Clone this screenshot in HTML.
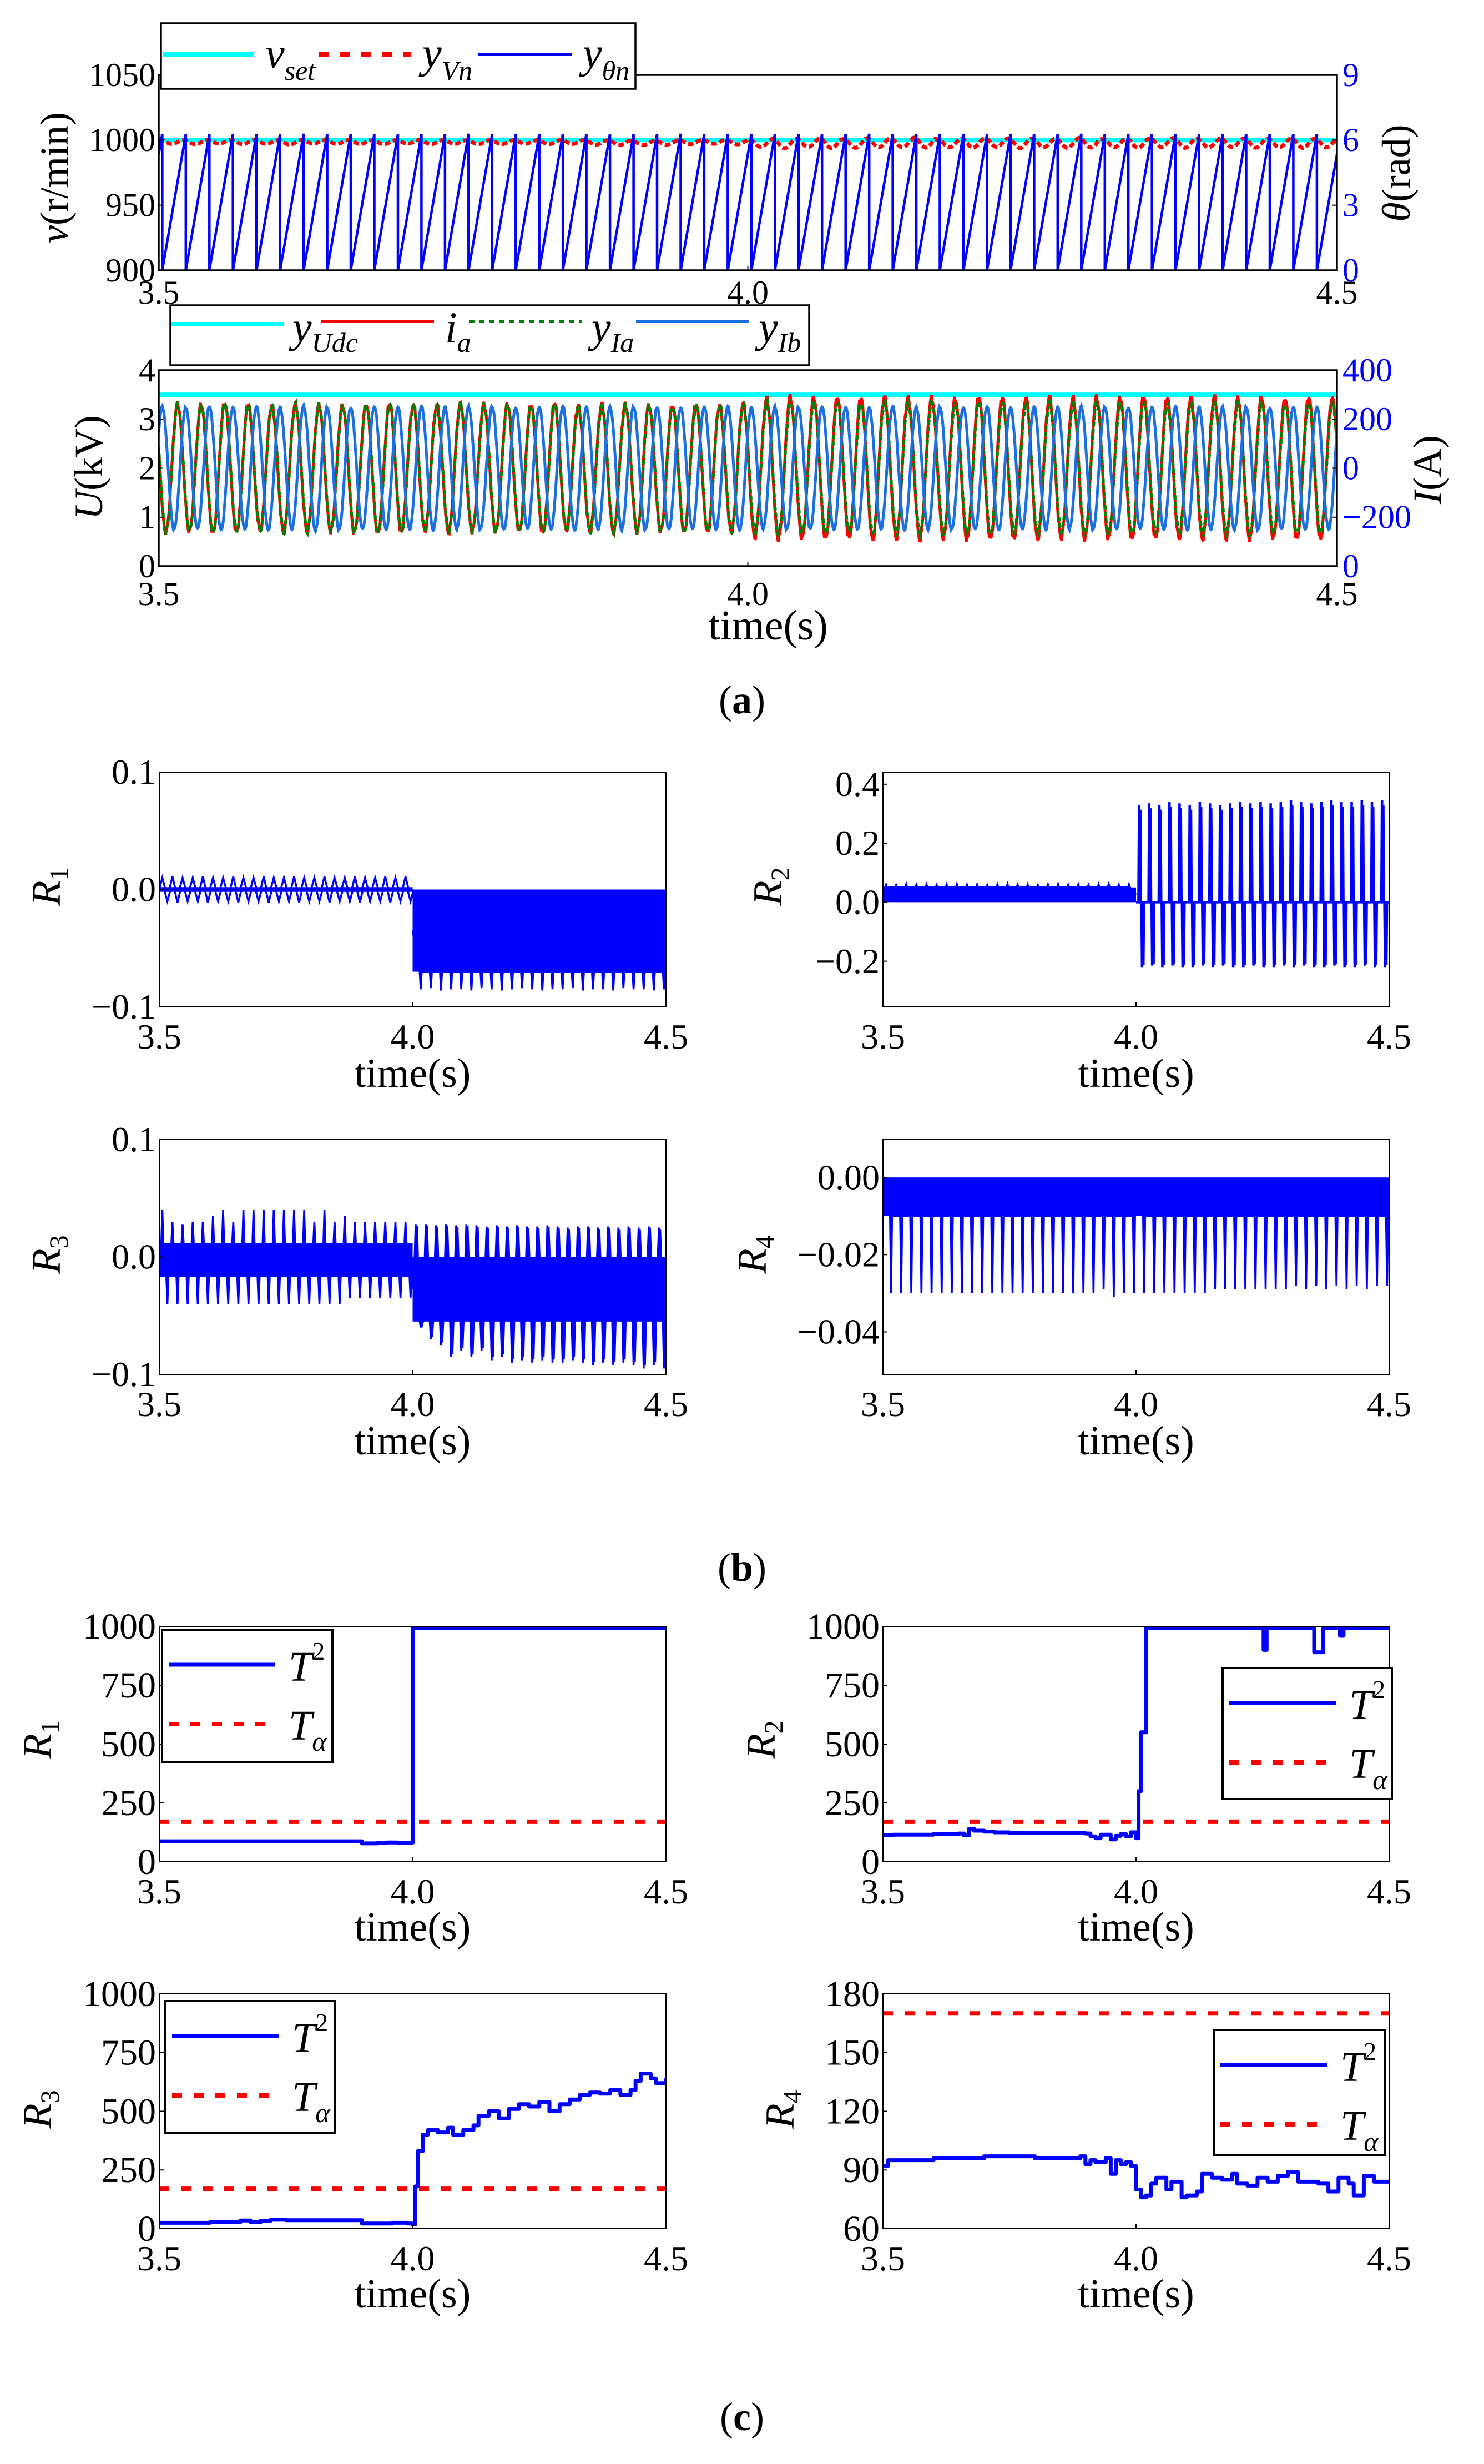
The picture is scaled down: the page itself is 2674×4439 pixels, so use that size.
<!DOCTYPE html>
<html><head><meta charset="utf-8"><title>Fault detection figure</title>
<style>
html,body{margin:0;padding:0;background:#fff;}
svg{display:block;font-family:"Liberation Serif",serif;}
</style></head>
<body>
<svg id="fig" xmlns="http://www.w3.org/2000/svg" width="2674" height="4439" viewBox="0 0 2674 4439" font-family="'Liberation Serif', serif">
<rect x="0" y="0" width="2674" height="4439" fill="#fff"/>
<g id="marks"></g>
<g id="static">
 <text transform="translate(122,320) rotate(-90)" text-anchor="middle" font-size="72"><tspan font-style="italic">v</tspan>(r/min)</text>
 <text transform="translate(2540,312) rotate(-90)" text-anchor="middle" font-size="72"><tspan font-style="italic">θ</tspan>(rad)</text>
 <text transform="translate(184,842) rotate(-90)" text-anchor="middle" font-size="72"><tspan font-style="italic">U</tspan>(kV)</text>
 <text transform="translate(2596,846) rotate(-90)" text-anchor="middle" font-size="72"><tspan font-style="italic">I</tspan>(A)</text>
 <text x="1384" y="1152" text-anchor="middle" font-size="76">time(s)</text>
 <text x="1337" y="1285" text-anchor="middle" font-size="72">(<tspan font-weight="bold">a</tspan>)</text>
 <text x="1337" y="2848" text-anchor="middle" font-size="72">(<tspan font-weight="bold">b</tspan>)</text>
 <text x="1337" y="4378" text-anchor="middle" font-size="72">(<tspan font-weight="bold">c</tspan>)</text>

 <g>
  <rect x="290" y="42" width="855" height="118" fill="#fff" stroke="#000" stroke-width="3.5"/>
  <line x1="293" y1="98" x2="458" y2="98" stroke="#00ffff" stroke-width="8"/>
  <text x="478" y="122" font-size="78" font-style="italic">v<tspan font-size="50" dy="22">set</tspan></text>
  <line x1="574" y1="98" x2="741" y2="98" stroke="#ff0000" stroke-width="8" stroke-dasharray="18 20"/>
  <text x="761" y="122" font-size="78" font-style="italic">y<tspan font-size="50" dy="22">Vn</tspan></text>
  <line x1="862" y1="98" x2="1030" y2="98" stroke="#0000ff" stroke-width="4.5"/>
  <text x="1050" y="122" font-size="78" font-style="italic">y<tspan font-size="50" dy="22">θn</tspan></text>
 </g>
 <g>
  <rect x="307" y="550" width="1151" height="108" fill="#fff" stroke="#000" stroke-width="3.5"/>
  <line x1="309" y1="584" x2="512" y2="584" stroke="#00ffff" stroke-width="8"/>
  <text x="527" y="616" font-size="78" font-style="italic">y<tspan font-size="50" dy="18">Udc</tspan></text>
  <line x1="578" y1="579" x2="782" y2="579" stroke="#ff0000" stroke-width="4"/>
  <text x="802" y="616" font-size="78" font-style="italic">i<tspan font-size="50" dy="18">a</tspan></text>
  <line x1="845" y1="579" x2="1048" y2="579" stroke="#008000" stroke-width="4" stroke-dasharray="10 8"/>
  <text x="1066" y="616" font-size="78" font-style="italic">y<tspan font-size="50" dy="18">Ia</tspan></text>
  <line x1="1146" y1="579" x2="1349" y2="579" stroke="#1b6fe0" stroke-width="4"/>
  <text x="1367" y="616" font-size="78" font-style="italic">y<tspan font-size="50" dy="18">Ib</tspan></text>
 </g>
</g>
<g id="legends2"></g>
</svg>
<script>
const NS='http://www.w3.org/2000/svg';
const root=document.getElementById('marks');
const legRoot=document.getElementById('legends2');
function mk(tag,attrs,parent){const e=document.createElementNS(NS,tag);for(const k in attrs)e.setAttribute(k,attrs[k]);(parent||root).appendChild(e);return e;}

/* ---------------- DATA ---------------- */
const timeTicks=[3.5,4.0,4.5];
const timeTickLabels=['3.5','4.0','4.5'];
const speedTicks=[900,950,1000,1050];
const thetaTicks=[0,3,6,9];
const vSet=[1000,1000];
const thetaPeaks=[6.28,6.28,6.27,6.28,6.28,6.29,6.28,6.28,6.27,6.28,6.28,6.28,6.29,6.28,6.28,6.27,6.28,6.28,6.28,6.28,6.28,6.29,6.28,6.28,6.28,
6.28,6.28,6.27,6.28,6.29,6.28,6.28,6.28,6.28,6.27,6.28,6.28,6.28,6.29,6.28,6.28,6.28,6.28,6.27,6.28,6.28,6.28,6.28,6.28,6.28];
const vnCenter=[998.5,998.3,998.6,998.4,998.5,998.2,998.6,998.4,998.5,998.3,998.6,998.4,998.5,998.3,998.4,998.5,998.3,998.6,998.2,998.0,997.8,998.0,998.4,998.6,998.3,
997.6,997.3,997.8,997.5,997.4,997.9,997.6,998.0,997.5,997.7,998.0,997.6,997.8,997.5,997.9,997.7,997.6,998.0,997.8,997.6,997.9,997.7,997.8,997.6,997.7];
const vnAmp=[1.5,1.6,1.4,1.6,1.5,1.7,1.4,1.5,1.6,1.5,1.4,1.6,1.5,1.5,1.6,1.4,1.5,1.6,1.7,1.8,1.6,1.5,1.6,1.5,1.6,
3.0,3.6,3.2,3.8,3.4,3.5,3.3,3.9,3.2,3.6,3.4,3.8,3.3,3.5,3.7,3.3,3.6,3.4,3.8,3.2,3.5,3.6,3.3,3.7,3.4];
const voltTicks=[0,1,2,3,4];
const currentTickLabels=['0','−200','0','200','400'];
const udcLevel=[3.5,3.5];
const iaAmp=[262,258,266,260,255,263,259,257,261,264,258,256,262,259,260,257,263,255,259,261,258,256,260,257,262,
282,290,286,288,284,292,287,289,285,291,288,286,290,284,289,287,291,285,288,290,286,289,284,288,287];
const yIaAmp=[258,255,262,257,252,260,256,254,258,261,255,253,259,256,257,254,260,252,256,258,255,253,257,254,259,
262,268,264,266,262,270,265,267,263,269,266,264,268,262,267,265,269,263,266,268,264,267,262,266,265];
const yIbAmp=[250,247,252,249,251,248,253,250,247,251,249,252,248,250,251,247,249,252,248,250,251,249,247,250,252,
246,250,248,252,249,247,251,248,250,249,252,247,250,248,251,249,247,250,252,248,249,251,247,250,249];
const r1Ticks=[-0.1,0.0,0.1], r1Labels=['−0.1','0.0','0.1'];
const r2Ticks=[-0.2,0.0,0.2,0.4], r2Labels=['−0.2','0.0','0.2','0.4'];
const r3Ticks=[-0.1,0.0,0.1], r3Labels=['−0.1','0.0','0.1'];
const r4Ticks=[-0.04,-0.02,0.0], r4Labels=['−0.04','−0.02','0.00'];
const r1PreBand=[-0.002,0.002], r1PostBand=[-0.07,0.0];
const r1PreHi=[0.010,0.011,0.010,0.010,0.011,0.010,0.010,0.011,0.010,0.010,0.011,0.010,0.010,0.011,0.010,0.010,0.011,0.010,0.010,0.011,0.010,0.010,0.011,0.010,0.011];
const r1PreLo=[-0.010,-0.011,-0.010,-0.010,-0.011,-0.010,-0.010,-0.011,-0.010,-0.010,-0.011,-0.010,-0.010,-0.011,-0.010,-0.010,-0.011,-0.010,-0.010,-0.011,-0.010,-0.010,-0.011,-0.010,-0.010];
const r1PostLo=[-0.085,-0.084,-0.086,-0.085,-0.085,-0.086,-0.084,-0.085,-0.086,-0.085,-0.084,-0.085,-0.086,-0.085,-0.085,-0.084,-0.086,-0.085,-0.085,-0.086,-0.084,-0.085,-0.085,-0.086,-0.085];
const r2PreBand=[0.0,0.05];
const r2PreHi=[0.06,0.058,0.061,0.059,0.06,0.058,0.06,0.061,0.059,0.06,0.058,0.06,0.061,0.059,0.06,0.058,0.06,0.061,0.059,0.06,0.058,0.06,0.061,0.059,0.06];
const r2PostHi=[0.33,0.335,0.33,0.34,0.335,0.33,0.34,0.335,0.33,0.335,0.34,0.335,0.34,0.335,0.34,0.345,0.34,0.335,0.34,0.345,0.34,0.34,0.345,0.34,0.345];
const r2PostLo=[-0.22,-0.215,-0.22,-0.215,-0.22,-0.22,-0.215,-0.22,-0.215,-0.22,-0.22,-0.215,-0.22,-0.22,-0.215,-0.22,-0.215,-0.22,-0.22,-0.215,-0.22,-0.22,-0.215,-0.22,-0.22];
const r3PreBand=[-0.017,0.012], r3PostBand=[-0.055,0.0];
const r3PreHi=[0.04,0.03,0.028,0.03,0.03,0.035,0.04,0.03,0.04,0.04,0.04,0.04,0.04,0.04,0.04,0.03,0.04,0.03,0.035,0.03,0.03,0.03,0.03,0.03,0.03];
const r3PreLo=[-0.04,-0.04,-0.04,-0.04,-0.04,-0.04,-0.04,-0.04,-0.04,-0.04,-0.04,-0.04,-0.04,-0.04,-0.04,-0.04,-0.04,-0.04,-0.035,-0.035,-0.035,-0.035,-0.035,-0.035,-0.035];
const r3PostHi=[0.028,0.028,0.027,0.028,0.027,0.028,0.027,0.026,0.027,0.026,0.027,0.026,0.026,0.027,0.026,0.025,0.026,0.026,0.025,0.026,0.025,0.026,0.025,0.026,0.025];
const r3PostLo=[-0.06,-0.07,-0.075,-0.085,-0.08,-0.085,-0.08,-0.088,-0.085,-0.09,-0.088,-0.09,-0.088,-0.09,-0.09,-0.088,-0.09,-0.092,-0.09,-0.092,-0.09,-0.092,-0.095,-0.092,-0.095];
const r4Band=[-0.01,0.0];
const r4PreLo=[-0.03,-0.03,-0.03,-0.03,-0.03,-0.03,-0.03,-0.03,-0.03,-0.03,-0.03,-0.03,-0.03,-0.03,-0.03,-0.03,-0.03,-0.03,-0.03,-0.03,-0.03,-0.029,-0.031,-0.03,-0.03];
const r4PostLo=[-0.03,-0.03,-0.03,-0.03,-0.03,-0.03,-0.03,-0.029,-0.029,-0.029,-0.029,-0.029,-0.029,-0.029,-0.029,-0.028,-0.029,-0.028,-0.029,-0.028,-0.029,-0.028,-0.029,-0.028,-0.028];
const tsqTicks=[0,250,500,750,1000];
const r4cTicks=[60,90,120,150,180];
const tAlphaC=[170,170];
const c1T=[3.5,3.89,3.9,3.93,3.95,3.97,3.999,4.001,4.5];
const c1V=[87,87,78,80,82,80,82,1000,1000];
const c2T=[3.5,3.52,3.6,3.65,3.66,3.67,3.68,3.7,3.72,3.75,3.8,3.85,3.9,3.91,3.92,3.93,3.95,3.96,3.97,3.98,3.99,4.0,4.005,4.01,4.02,4.25,4.252,4.258,4.35,4.352,4.37,4.4,4.403,4.41,4.5];
const c2V=[112,115,118,120,112,140,132,128,125,122,122,122,120,108,100,115,95,110,118,108,125,100,300,550,1000,1000,900,1000,1000,890,1000,1000,960,1000,1000];
const c3T=[3.5,3.6,3.66,3.68,3.7,3.72,3.75,3.8,3.89,3.9,3.93,3.96,3.99,4.0,4.005,4.01,4.02,4.03,4.05,4.07,4.08,4.1,4.12,4.13,4.15,4.17,4.19,4.21,4.23,4.25,4.27,4.29,4.31,4.33,4.35,4.37,4.39,4.41,4.43,4.44,4.45,4.47,4.48,4.5];
const c3V=[25,28,35,28,34,38,36,36,36,22,22,25,22,18,180,330,400,420,410,430,400,420,440,480,500,470,510,530,520,540,500,530,550,570,580,575,590,570,590,630,660,640,620,640];
const c4T=[3.5,3.51,3.6,3.7,3.8,3.89,3.9,3.91,3.92,3.94,3.95,3.96,3.97,3.98,3.99,4.0,4.01,4.02,4.03,4.04,4.06,4.07,4.09,4.1,4.12,4.13,4.15,4.17,4.19,4.2,4.22,4.24,4.26,4.28,4.3,4.32,4.34,4.36,4.38,4.4,4.42,4.43,4.45,4.47,4.5];
const c4V=[92,95,96,97,96,97,93,95,94,96,88,95,93,94,92,80,76,77,83,86,80,84,76,77,79,88,86,85,88,83,82,86,84,87,89,84,84,83,79,86,83,77,87,84,85];

/* ---------------- HELPERS ---------------- */
function axes(x0,x1,y0,y1,ymin,ymax){
  return {x0,x1,y0,y1,X:t=>x0+(t-3.5)/(1.0)*(x1-x0),Y:v=>y1-(v-ymin)/(ymax-ymin)*(y1-y0)};
}
let clipId=0;
function clip(ax){
  const id='cp'+(clipId++);
  const defs=mk('defs',{});
  const cp=mk('clipPath',{id:id},defs);
  mk('rect',{x:ax.x0,y:ax.y0,width:ax.x1-ax.x0,height:ax.y1-ax.y0},cp);
  const g=mk('g',{'clip-path':'url(#'+id+')'});
  return g;
}
function pts(arr){return arr.map(p=>p[0].toFixed(1)+','+p[1].toFixed(1)).join(' ');}
function frame(ax,sw,name){
  const r=mk('rect',{x:ax.x0,y:ax.y0,width:ax.x1-ax.x0,height:ax.y1-ax.y0,fill:'none',stroke:'#000','stroke-width':sw});
  
  
}
function xTicks(ax,base,fs,name){
  timeTicks.forEach((t,i)=>{
    mk('line',{x1:ax.X(t),x2:ax.X(t),y1:ax.y1,y2:ax.y1-8,stroke:'#000','stroke-width':2});
    const e=mk('text',{x:ax.X(t),y:base,'text-anchor':'middle','font-size':fs});
    e.textContent=timeTickLabels[i];
    
    
  });
}
function yTicks(ax,vals,labels,fs,name,right,color){
  vals.forEach((v,i)=>{
    const y=ax.Y(v);
    if(right){mk('line',{x1:ax.x1,x2:ax.x1-8,y1:y,y2:y,stroke:'#000','stroke-width':2});}
    else{mk('line',{x1:ax.x0,x2:ax.x0+8,y1:y,y2:y,stroke:'#000','stroke-width':2});}
    const e=mk('text',{x:right?ax.x1+10:ax.x0-6,y:y+fs*0.33,'text-anchor':right?'start':'end','font-size':fs,fill:color||'#000'});
    e.textContent=labels[i];
    
    
  });
}
function rLabel(x,y,sub,name){
  const e=mk('text',{transform:'translate('+x+','+y+') rotate(-90)','text-anchor':'middle','font-size':74,'font-style':'italic'});
  e.innerHTML='R<tspan font-size="48" font-style="normal" dy="14">'+sub+'</tspan>';
  
  
}
function timeTitle(ax,base,name){
  const e=mk('text',{x:(ax.x0+ax.x1)/2,y:base,'text-anchor':'middle','font-size':74});
  e.textContent='time(s)';
  
  
}

/* ---------------- PANEL A1 ---------------- */
const A1=axes(286,2409,135,487,900,1050);
const A1th=axes(286,2409,135,487,0,9);
{
  const g=clip(A1);
  const P=[];const period=0.02,d0=3.503;
  P.push([A1th.X(3.5),A1th.Y(thetaPeaks[0]*(1-(d0-3.5)/period))]);
  P.push([A1th.X(d0),A1th.Y(thetaPeaks[0])]);
  for(let k=0;k<thetaPeaks.length;k++){
    const ds=d0+k*period, de=ds+period;
    P.push([A1th.X(ds),A1th.Y(0)]);
    if(de<=4.5){P.push([A1th.X(de),A1th.Y(thetaPeaks[k])]);}
    else{P.push([A1th.X(4.5),A1th.Y(thetaPeaks[k]*(4.5-ds)/period)]);break;}
  }
  const vs=mk('line',{x1:A1.x0,x2:A1.x1,y1:A1.Y(vSet[0]),y2:A1.Y(vSet[1]),stroke:'#00ffff','stroke-width':8},g);
  
  
  const vn=[];
  for(let k=0;k<vnCenter.length;k++){
    for(let s=0;s<20;s++){const t=3.5+k*0.02+s*0.001;vn.push([A1.X(t),A1.Y(vnCenter[k]+vnAmp[k]*Math.sin(2*Math.PI*(t-3.5)/0.02+1.2))]);}
  }
  vn.push([A1.X(4.5),A1.Y(vnCenter[vnCenter.length-1])]);
  const vl=mk('polyline',{points:pts(vn),fill:'none',stroke:'#ff0000','stroke-width':7,'stroke-dasharray':'10 5'},g);
  
  
  const th=mk('polyline',{points:pts(P),fill:'none',stroke:'#0000ff','stroke-width':4.5},g);
  
  
  frame(A1,3.5,'speed-plot-frame');
  xTicks(A1,547,60,'speed');
  yTicks(A1,speedTicks,speedTicks.map(String),60,'speed',false);
  yTicks(A1th,thetaTicks,thetaTicks.map(String),60,'theta',true,'#0000ff');
}

/* ---------------- PANEL A2 ---------------- */
const A2=axes(286,2409,667,1020,0,4);
{
  const g=clip(A2);
  const ud=mk('line',{x1:A2.x0,x2:A2.x1,y1:A2.Y(udcLevel[0]),y2:A2.Y(udcLevel[1]),stroke:'#00ffff','stroke-width':8},g);
  
  
  const tp=3.916, per=0.02;
  function wave(amps,phase,jit){
    const out=[];
    for(let i=0;i<=2000;i++){
      const t=3.5+i*0.0005;
      const k=Math.min(amps.length-1,Math.floor((t-3.5)/per));
      const n=jit?((i*7919)%13-6)/6*jit:0;
      const a=amps[k]+n;
      out.push([A2.X(t),A2.Y(2+a/200*Math.cos(2*Math.PI*(t-tp)/per-phase))]);
    }
    return out;
  }
  const ia=mk('polyline',{points:pts(wave(iaAmp,0,12)),fill:'none',stroke:'#ff0000','stroke-width':5},g);
  
  
  const ya=mk('polyline',{points:pts(wave(yIaAmp,0.05,14)),fill:'none',stroke:'#008000','stroke-width':5,'stroke-dasharray':'8 4'},g);
  
  
  const yb=mk('polyline',{points:pts(wave(yIbAmp,2.2,4)),fill:'none',stroke:'#1b6fe0','stroke-width':5},g);
  
  
  frame(A2,3.5,'voltage-current-plot-frame');
  xTicks(A2,1090,60,'voltage');
  yTicks(A2,voltTicks,voltTicks.map(String),60,'voltage',false);
  yTicks(A2,voltTicks,currentTickLabels,60,'current',true,'#0000ff');
}

/* ---------------- PANEL B ---------------- */
function spiky(ax,name,segs){
  const g=clip(ax);
  segs.forEach((s,si)=>{
    if(s.band){
      const r=mk('rect',{x:ax.X(s.t0),y:ax.Y(s.band[1]),width:ax.X(s.t1)-ax.X(s.t0),height:Math.max(2,ax.Y(s.band[0])-ax.Y(s.band[1])),fill:'#0000ff'},g);
      
      
    }
    const base=s.band?s.band:[0,0];
    const P=[[ax.X(s.t0),ax.Y((base[0]+base[1])/2)]];
    const n=Math.max(s.hi?s.hi.length:0,s.lo?s.lo.length:0);
    const reps=s.double?2:1;
    for(let k=0;k<n;k++){
      for(let r=0;r<reps;r++){
        const tc=s.t0+(k+0.3)*0.02+r*0.0025;
        if(s.hi){P.push([ax.X(tc-s.w),ax.Y(base[1])]);P.push([ax.X(tc),ax.Y(s.hi[k]*(r?0.95:1))]);P.push([ax.X(tc+s.w),ax.Y(base[1])]);}
        const tl=tc+(s.loOff||0.01);
        if(s.lo){P.push([ax.X(tl-s.w),ax.Y(base[0])]);P.push([ax.X(tl),ax.Y(s.lo[k]*(r?0.97:1))]);P.push([ax.X(tl+s.w),ax.Y(base[0])]);}
      }
    }
    P.push([ax.X(s.t1),ax.Y((base[0]+base[1])/2)]);
    const pl=mk('polyline',{points:pts(P),fill:'none',stroke:'#0000ff','stroke-width':s.sw||3.5},g);
    
    
  });
}
const B1=axes(287,1200,1391,1814,-0.1,0.1);
const B2=axes(1591,2503,1391,1814,-0.355,0.441);
const B3=axes(287,1200,2053,2476,-0.1,0.1);
const B4=axes(1591,2503,2053,2476,-0.051,0.0098);
spiky(B1,'b-r1',[{t0:3.5,t1:4.0,band:r1PreBand,hi:r1PreHi,lo:r1PreLo,w:0.005},{t0:4.0,t1:4.5,band:r1PostBand,lo:r1PostLo,w:0.002}]);
spiky(B2,'b-r2',[{t0:3.5,t1:4.0,band:r2PreBand,hi:r2PreHi,w:0.002},{t0:4.0,t1:4.5,band:null,hi:r2PostHi,lo:r2PostLo,w:0.0012,loOff:0.006,double:true,sw:4.5}]);
spiky(B3,'b-r3',[{t0:3.5,t1:4.0,band:r3PreBand,hi:r3PreHi,lo:r3PreLo,w:0.002},{t0:4.0,t1:4.5,band:r3PostBand,hi:r3PostHi,lo:r3PostLo,w:0.002,double:true}]);
spiky(B4,'b-r4',[{t0:3.5,t1:4.0,band:r4Band,lo:r4PreLo,w:0.002},{t0:4.0,t1:4.5,band:r4Band,lo:r4PostLo,w:0.002}]);
[[B1,r1Ticks,r1Labels,'b-r1'],[B2,r2Ticks,r2Labels,'b-r2'],[B3,r3Ticks,r3Labels,'b-r3'],[B4,r4Ticks,r4Labels,'b-r4']].forEach(a=>{
  frame(a[0],2,a[3]+'-frame');
  yTicks(a[0],a[1],a[2],64,a[3],false);
  xTicks(a[0],a[0].y1+75,64,a[3]);
  timeTitle(a[0],a[0].y1+144,a[3]+'-x-axis-title');
});
rLabel(108,1597,'1','b-r1-y-axis-title');
rLabel(1408,1597,'2','b-r2-y-axis-title');
rLabel(108,2260,'3','b-r3-y-axis-title');
rLabel(1380,2260,'4','b-r4-y-axis-title');

/* ---------------- PANEL C ---------------- */
function stepLine(ax,T,V,name){
  const g=clip(ax);
  const ta=mk('line',{x1:ax.x0,x2:ax.x1,y1:ax.Y(tAlphaC[0]),y2:ax.Y(tAlphaC[1]),stroke:'#ff0000','stroke-width':8,'stroke-dasharray':'18 21'},g);
  
  
  const P=[];
  for(let i=0;i<T.length;i++){
    const v=Math.min(V[i],(ax.yTop||1e9));
    P.push([ax.X(T[i]),ax.Y(v)]);
    if(i<T.length-1)P.push([ax.X(T[i+1]),ax.Y(v)]);
  }
  const pl=mk('polyline',{points:pts(P),fill:'none',stroke:'#0000ff','stroke-width':7,'stroke-linejoin':'round'},g);
  
  
}
const C1=axes(287,1200,2930,3354,0,1000); C1.yTop=994;
const C2=axes(1591,2503,2930,3354,0,1000); C2.yTop=994;
const C3=axes(287,1200,3592,4015,0,1000); C3.yTop=994;
const C4=axes(1591,2503,3592,4015,60,180);
stepLine(C1,c1T,c1V,'c-r1');
stepLine(C2,c2T,c2V,'c-r2');
stepLine(C3,c3T,c3V,'c-r3');
stepLine(C4,c4T,c4V,'c-r4');
[[C1,tsqTicks,'c-r1'],[C2,tsqTicks,'c-r2'],[C3,tsqTicks,'c-r3'],[C4,r4cTicks,'c-r4']].forEach(a=>{
  frame(a[0],2,a[2]+'-frame');
  yTicks(a[0],a[1],a[1].map(String),66,a[2],false);
  xTicks(a[0],a[0].y1+75,64,a[2]);
  timeTitle(a[0],a[0].y1+142,a[2]+'-x-axis-title');
});
rLabel(92,3134,'1','c-r1-y-axis-title');
rLabel(1396,3134,'2','c-r2-y-axis-title');
rLabel(92,3800,'3','c-r3-y-axis-title');
rLabel(1430,3800,'4','c-r4-y-axis-title');
function tLegend(x,y,w,h,name){
  const g=mk('g',{},legRoot);
  
  
  mk('rect',{x:x,y:y,width:w,height:h,fill:'#fff',stroke:'#000','stroke-width':4},g);
  mk('line',{x1:x+12,x2:x+204,y1:y+63,y2:y+63,stroke:'#0000ff','stroke-width':7},g);
  const t1=mk('text',{x:x+228,y:y+92,'font-size':76,'font-style':'italic'},g);
  t1.innerHTML='T<tspan font-size="46" font-style="normal" dy="-38">2</tspan>';
  mk('line',{x1:x+12,x2:x+190,y1:y+170,y2:y+170,stroke:'#ff0000','stroke-width':8,'stroke-dasharray':'18 21'},g);
  const t2=mk('text',{x:x+228,y:y+198,'font-size':76,'font-style':'italic'},g);
  t2.innerHTML='T<tspan font-size="50" dy="20">α</tspan>';
}
tLegend(292,2936,307,239,'c-r1-legend');
tLegend(2203,3005,305,236,'c-r2-legend');
tLegend(298,3605,305,237,'c-r3-legend');
tLegend(2187,3657,308,226,'c-r4-legend');
</script>
</body></html>
